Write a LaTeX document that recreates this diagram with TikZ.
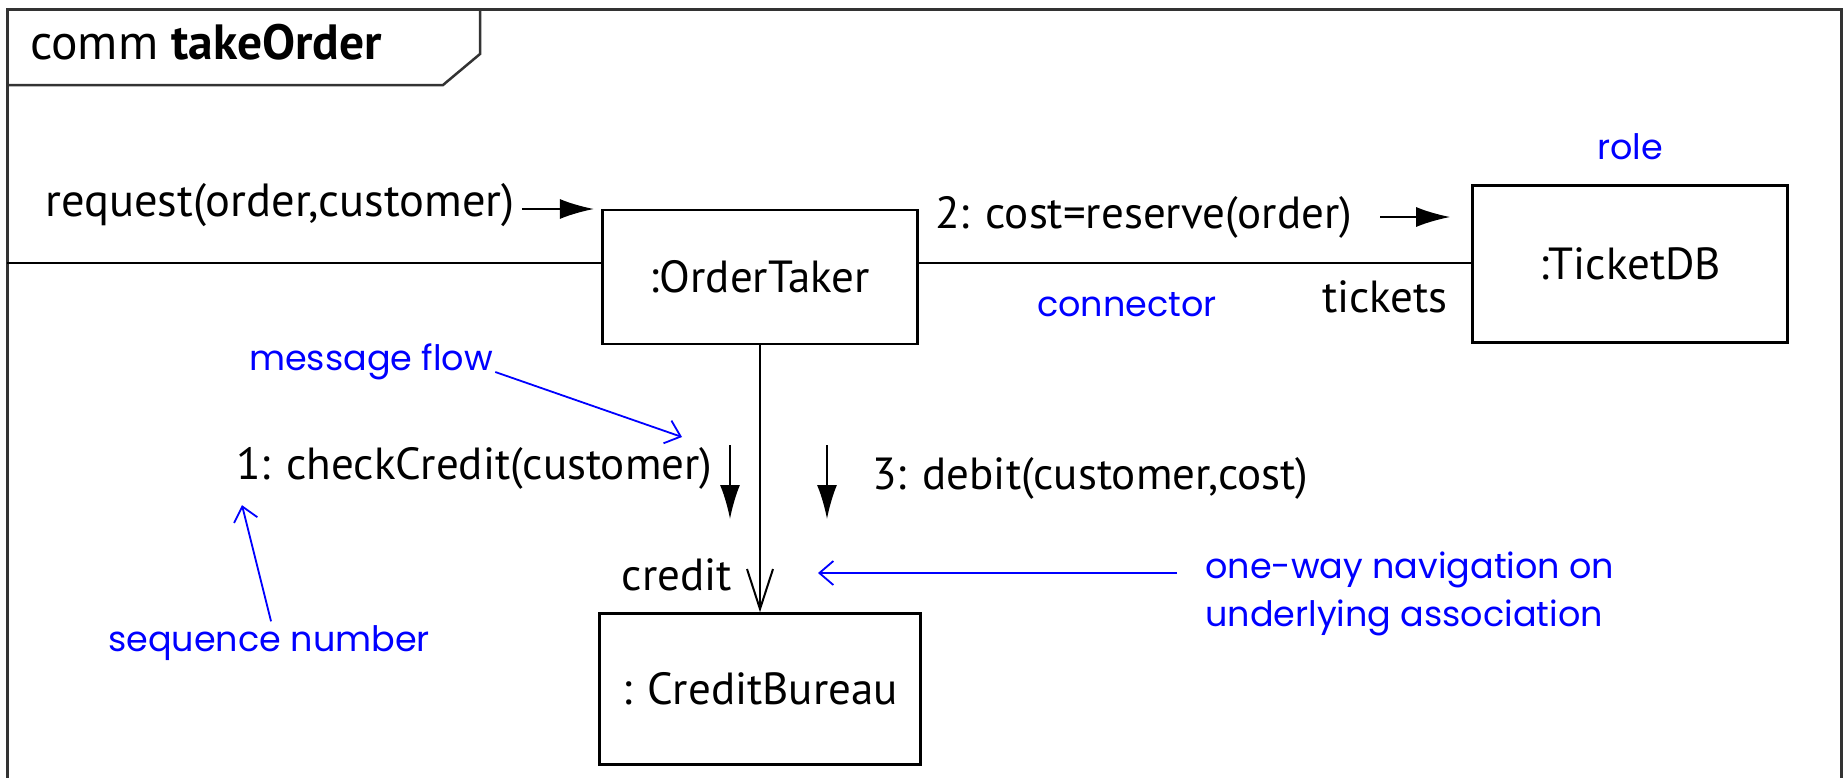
\documentclass[tikz,border=0pt]{standalone}
\usepackage{fontspec}
\setmainfont{PT Sans}
\newfontfamily\notefont{Poppins}
\usetikzlibrary{arrows.meta, positioning}

\begin{document}
\begin{tikzpicture}[x=1pt, y=-1pt,
    every node/.style={inner sep=0pt},
    txt/.style={font=\fontsize{45}{50}\selectfont},
    role/.style={draw, line width=2.5pt, txt},
    note/.style={text=blue, font=\notefont\fontsize{35}{48}\selectfont},
    msg/.style={line width=2pt, -{Latex[length=34pt,width=20pt]}},
    hint/.style={blue, line width=1.8pt, -{Straight Barb[length=14pt,width=24pt]}}]

    % Frame
    \useasboundingbox (0,0) rectangle (1843,777);
    \draw[line width=3pt, black!80] (7,800) -- (7,9) -- (1841,9) -- (1841,800);
    \draw[line width=2.5pt, black!80] (7,85) -- (443,85) -- (480,54) -- (480,9);
    \node[font=\fontsize{49.5}{54}\selectfont, anchor=west] (title) at (30,42) {comm \textbf{takeOrder}};

    % Roles
    \node[role, minimum width=315pt, minimum height=134pt] (ot) at (760,277) {:OrderTaker};
    \node[role, minimum width=315pt, minimum height=157pt] (tdb) at (1630,264) {:TicketDB};
    \node[role, minimum width=321pt, minimum height=151pt] (cb) at (760,689) {: CreditBureau};

    % Connectors
    \coordinate (lifeL) at (7,263);
    \draw[line width=2pt] (lifeL) -- (lifeL -| ot.west);
    \draw[line width=2pt] (ot.east |- lifeL) -- (tdb.west |- lifeL);
    \draw[line width=2pt, -{Straight Barb[length=40pt,width=26pt]}] (ot.south) -- (cb.north);

    % Messages
    \node[font=\fontsize{46.5}{50}\selectfont, anchor=west] (req) at (45,205) {request(order,customer)};
    \draw[msg] ([shift={(7,4)}]req.east) -- ++(72,0);
    \node[txt, anchor=west] (reserve) at (935,217) {2: cost=reserve(order)};
    \draw[msg] ([shift={(28,0)}]reserve.east) -- ++(70,0);
    \node[txt, anchor=west] (check) at (236,468) {1: checkCredit(customer)};
    \draw[msg] (730,445) -- (730,519);
    \draw[msg] (827,445) -- (827,519);
    \node[txt, anchor=west] (debit) at (872,478) {3: debit(customer,cost)};

    % End names
    \node[txt, anchor=east] (tickets) at (1448,297) {tickets};
    \node[txt, anchor=east] (credit) at (732,575) {credit};

    % Notes
    \node[note] (role) at (1630,147) {role};
    \node[note, anchor=west] (conn) at (1037,305) {connector};
    \node[note, anchor=west] (flow) at (249,362) {message flow};
    \draw[hint] ([shift={(2,10)}]flow.east) -- (682,437);
    \node[note, anchor=west] (seq) at (108,643) {sequence number};
    \draw[hint] ([shift={(2,-4)}]seq.north) -- ([shift={(6,16)}]check.south west);
    \node[note, anchor=west, align=left] (nav) at (1205,594) {one-way navigation on\\underlying association};
    \draw[hint] ([shift={(-28,-21)}]nav.west) -- (818,573);
\end{tikzpicture}
\end{document}
